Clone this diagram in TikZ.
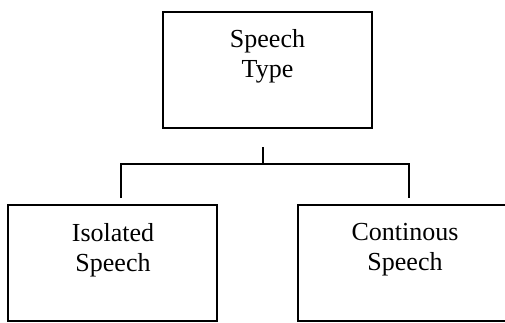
\documentclass[tikz,border=0pt]{standalone}
\usepackage{fontspec}
\setmainfont{Liberation Serif}
\begin{document}
\begin{tikzpicture}[x=1bp,y=-1bp,
  box/.style={draw, line width=1.2bp, rectangle, inner sep=0pt},
  lbl/.style={align=center, inner sep=0pt, font=\fontsize{26bp}{30bp}\selectfont},
  conn/.style={draw, line width=1.2bp}]
\useasboundingbox (0,0) rectangle (505,322);
% boxes
\node[box, minimum width=209bp, minimum height=116bp] (top) at (267.5,70) {};
\node[box, minimum width=209bp, minimum height=116bp] (left) at (112.5,263) {};
\node[box, minimum width=214bp, minimum height=116bp] (right) at (405,263) {};
% texts
\node[lbl, anchor=north] (ttop) at (267.5,29) {Speech\\Type};
\node[lbl, anchor=north] (tleft) at (113,223) {Isolated\\Speech};
\node[lbl, anchor=north] (tright) at (405,223) {Continous\\Speech};
% connectors
\coordinate (a) at (263,147);
\coordinate (j) at (263,164);
\coordinate (l) at (121,198);
\coordinate (r) at (409,198);
\draw[conn] (a) -- (j);
\draw[conn] (l) |- (j) -| (r);
\end{tikzpicture}
\end{document}
